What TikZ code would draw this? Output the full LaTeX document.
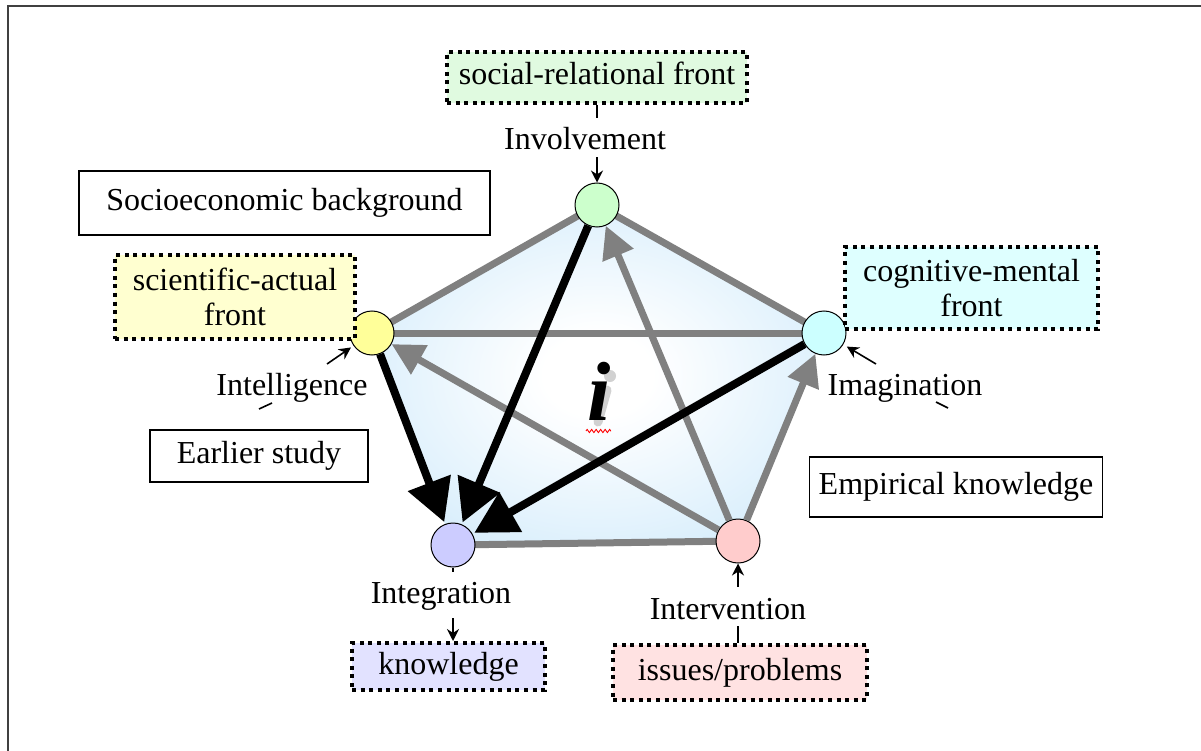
\documentclass[tikz,border=0pt]{standalone}
\usepackage{fontspec}
\setmainfont{Liberation Serif}
\usetikzlibrary{arrows.meta,decorations.pathmorphing}
\definecolor{pblue}{RGB}{196,229,250}
\definecolor{lgray}{RGB}{128,128,128}
\definecolor{cgreen}{RGB}{204,255,204}
\definecolor{cyellow}{RGB}{255,255,153}
\definecolor{ccyan}{RGB}{204,255,255}
\definecolor{cpurple}{RGB}{204,204,255}
\definecolor{cpink}{RGB}{255,204,204}
\definecolor{bgreen}{RGB}{224,250,224}
\definecolor{byellow}{RGB}{255,255,208}
\definecolor{bcyan}{RGB}{222,255,255}
\definecolor{bpurple}{RGB}{226,226,255}
\definecolor{bpink}{RGB}{255,226,226}
\pgfdeclareradialshading{pentshade}{\pgfpoint{0bp}{0bp}}{color(0bp)=(white); color(6bp)=(white); color(40bp)=(pblue); color(50bp)=(pblue)}
\begin{document}
\begin{tikzpicture}[x=1pt,y=-1pt,
  txt/.style={font=\fontsize{32}{35}\selectfont},
  lbl/.style={txt, inner sep=0pt, text height=22pt, text depth=7pt},
  solidbox/.style={txt, draw=black, line width=1.5pt, fill=white, inner sep=4pt, text height=22pt, text depth=7pt},
  dotbox/.style={txt, draw=black, line width=4pt, dash pattern=on 4pt off 4.6pt, inner sep=4pt},
  oneline/.style={text height=22pt, text depth=7pt},
  circ/.style={circle, draw=black, line width=1pt, minimum size=44pt, inner sep=0pt},
  grayline/.style={draw=lgray, line width=7pt},
  grayarrow/.style={draw=lgray, line width=7pt, -{Triangle[width=32pt,length=32pt]}},
  blackarrow/.style={draw=black, line width=8pt, -{Triangle[width=44pt,length=42pt]}},
  smallarrow/.style={draw=black, line width=1.6pt, -{Stealth[length=12pt,width=12pt]}},
  tickline/.style={draw=black, line width=1.6pt},
  ishade/.style={black!18}
]
\useasboundingbox (0,0) rectangle (1201,751);
\fill[white] (0,0) rectangle (1201,751);
% frame
\coordinate (fBL) at (8,751);
\coordinate (fTL) at (8,6);
\coordinate (fTR) at (1201,6);
\draw[line width=2pt, draw=black!75] (fBL) -- (fTL) -- (fTR);

% pentagon vertices
\coordinate (pG) at (597,205);
\coordinate (pY) at (372,333);
\coordinate (pC) at (824,333);
\coordinate (pP) at (453,545);
\coordinate (pU) at (738,541);

\shade[shading=pentshade] (pY) -- (pG) -- (pC) -- (pU) -- (pP) -- cycle;

% gray plain edges
\draw[grayline] (pG) -- (pY);
\draw[grayline] (pG) -- (pC);
\draw[grayline] (pY) -- (pC);
\draw[grayline] (pP) -- (pU);

% circles
\node[circ, fill=cgreen] (cG) at (pG) {};
\node[circ, fill=cyellow] (cY) at (pY) {};
\node[circ, fill=ccyan] (cC) at (pC) {};
\node[circ, fill=cpurple] (cP) at (pP) {};
\node[circ, fill=cpink] (cU) at (pU) {};

% gray arrows
\draw[grayarrow] (cU) -- (cG);
\draw[grayarrow] (cU) -- (cY);
\draw[grayarrow] (cU) -- (cC);
% black arrows
\draw[blackarrow, shorten >=2pt] (cY) -- (cP);
\draw[blackarrow, shorten >=2pt] (cG) -- (cP);
\draw[blackarrow, shorten >=2pt] (cC) -- (cP);

% soft shadow of the central i (drawn as shapes)
\coordinate (ibase) at (599,420);
\fill[ishade] ([xshift=11pt,yshift=44pt]ibase) circle (6pt);
\draw[ishade, line width=9pt, line cap=round] ([xshift=-1pt,yshift=-2pt]ibase) -- ([xshift=8pt,yshift=30pt]ibase);
% central i
\node[font=\fontsize{84}{84}\selectfont\bfseries\itshape, inner sep=0pt, anchor=base] (ibig) at (ibase) {i};
\draw[red, line width=0.9pt, decorate, decoration={zigzag, amplitude=1.6pt, segment length=4.5pt}]
  ([xshift=-13pt,yshift=-11pt]ibig.base) -- ([xshift=12pt,yshift=-11pt]ibig.base);

% solid boxes
\node[solidbox, minimum width=411pt, minimum height=64pt] (socio) at (284.5,203) {Socioeconomic background};
\node[solidbox, minimum width=218pt, minimum height=52pt] (earlier) at (259,456) {Earlier study};
\node[solidbox, minimum width=293pt, minimum height=60pt] (empir) at (956,487) {Empirical knowledge};

% dotted boxes
\node[dotbox, oneline, fill=bgreen, minimum width=300pt, minimum height=51pt] (social) at (597,77.5) {social-relational front};
\node[dotbox, fill=byellow, minimum width=240pt, minimum height=84pt, align=center] (sci) at (235,297) {scientific-actual\\front};
\node[dotbox, fill=bcyan, minimum width=253pt, minimum height=82pt, align=center] (cog) at (971.5,288) {cognitive-mental\\front};
\node[dotbox, oneline, fill=bpurple, minimum width=193pt, minimum height=47pt] (know) at (448.5,666.5) {knowledge};
\node[dotbox, oneline, fill=bpink, minimum width=254pt, minimum height=55pt] (issues) at (740,672.5) {issues/problems};

% labels
\node[lbl, anchor=base] (inv) at (585,150) {Involvement};
\node[lbl, anchor=base] (intel) at (292,395) {Intelligence};
\node[lbl, anchor=base] (imag) at (905,395) {Imagination};
\node[lbl, anchor=base] (integ) at (441,603) {Integration};
\node[lbl, anchor=base] (interv) at (728,619) {Intervention};

% small connectors
\draw[tickline, shorten >=10pt] (social.south -| cG) -- (inv.north -| cG);
\draw[smallarrow] (inv.south -| cG) -- (cG);

\coordinate (intelA) at (327,364);
\draw[smallarrow, shorten >=3pt] (intelA) -- (cY);
\coordinate (intelT1) at (259,409);
\coordinate (intelT2) at (272,403);
\draw[tickline] (intelT1) -- (intelT2);

\coordinate (imagA) at (876,364);
\draw[smallarrow, shorten >=4pt] (imagA) -- (cC);
\coordinate (imagT1) at (936,402);
\coordinate (imagT2) at (948,408);
\draw[tickline] (imagT1) -- (imagT2);

\draw[tickline, shorten >=9pt] (cP.south) -- (integ.north -| cP);
\draw[smallarrow, shorten <=8pt] (integ.south -| cP) -- (know.north -| cP);

\draw[smallarrow, shorten <=10pt] (interv.north -| cU) -- (cU);
\draw[tickline] (interv.south -| cU) -- (issues.north -| cU);
\end{tikzpicture}
\end{document}
